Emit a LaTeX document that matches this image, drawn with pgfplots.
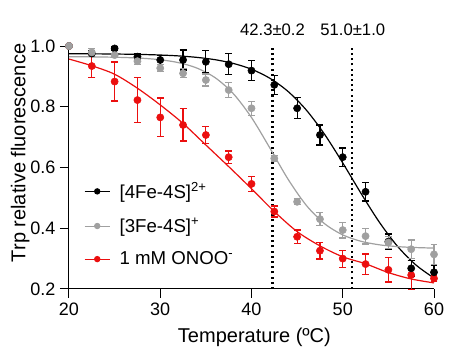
\documentclass[border=0pt]{standalone}
\usepackage{fontspec}
\setmainfont{Liberation Sans}
\usepackage{pgfplots}
\usepackage{pgfplotstable}
\pgfplotsset{compat=1.18}
\definecolor{gr}{RGB}{160,160,160}
\definecolor{rd}{RGB}{235,15,15}

\pgfplotstableread{
x y e
20 1.000 0.000
22.5 0.975 0.010
25 0.992 0.005
27.5 0.965 0.010
30 0.954 0.015
32.5 0.954 0.033
35 0.948 0.037
37.5 0.940 0.035
40 0.919 0.033
42.5 0.872 0.032
45 0.795 0.035
47.5 0.707 0.033
50 0.634 0.030
52.5 0.520 0.030
55 0.356 0.025
57.5 0.268 0.025
60 0.255 0.022
}\blackdata

\pgfplotstableread{
x y e
20 1.000 0.000
22.5 0.979 0.012
25 0.970 0.006
27.5 0.950 0.010
30 0.927 0.012
32.5 0.910 0.015
35 0.888 0.020
37.5 0.855 0.025
40 0.795 0.023
42.5 0.630 0.010
45 0.487 0.010
47.5 0.430 0.021
50 0.394 0.026
52.5 0.374 0.026
55 0.353 0.020
57.5 0.331 0.030
60 0.314 0.033
}\graydata

\pgfplotstableread{
x y e
20 1.000 0.000
22.5 0.934 0.037
25 0.883 0.064
27.5 0.822 0.074
30 0.765 0.064
32.5 0.740 0.053
35 0.707 0.029
37.5 0.634 0.020
40 0.546 0.025
42.5 0.455 0.018
45 0.372 0.022
47.5 0.326 0.027
50 0.300 0.028
52.5 0.282 0.033
55 0.263 0.040
57.5 0.246 0.048
60 0.235 0.010
}\reddata

\begin{document}
\begin{tikzpicture}
\begin{axis}[
  scale only axis, width=273.75pt, height=182.25pt,
  xmin=20, xmax=60, ymin=0.2, ymax=1.0,
  axis x line*=bottom, axis y line*=left,
  xtick={20,30,40,50,60}, ytick={0.2,0.4,0.6,0.8,1.0},
  tick align=outside, major tick length=6.75pt,
  tick style={black, line width=0.75pt},
  axis line style={line width=0.75pt},
  yticklabel style={/pgf/number format/.cd, fixed, fixed zerofill, precision=1},
  /pgf/number format/assume math mode=true,
  ticklabel style={font=\fontsize{13.5}{16}\selectfont},
  xlabel={Temperature (ºC)},
  ylabel={Trp relative fluorescence},
  xlabel style={font=\fontsize{15}{18}\selectfont, at={(axis description cs:0.508,0)}, anchor=base, yshift=-40.5pt},
  ylabel style={font=\fontsize{15}{18}\selectfont, at={(axis description cs:-0.134,0.56)}, anchor=center, rotate=0},
  clip=false,
  legend cell align=left,
  legend style={draw=none, fill=none, at={(axis description cs:0.03,0.462)}, anchor=north west,
    font=\fontsize{14}{17}\selectfont, row sep=9pt, column sep=5pt},
  legend image code/.code={\draw[#1, mark=none] (0cm,0cm) -- (0.66cm,0cm);
     \draw[#1, only marks] plot coordinates {(0.33cm,0cm)};},
]
\addlegendimage{black, line width=0.75pt, mark=*, mark size=2pt}
\addlegendentry{[4Fe-4S]\textsuperscript{2+}}
\addlegendimage{gr, line width=0.75pt, mark=*, mark size=2pt}
\addlegendentry{[3Fe-4S]\textsuperscript{+}}
\addlegendimage{rd, line width=0.75pt, mark=*, mark size=2pt}
\addlegendentry{1 mM ONOO\textsuperscript{-}}

% dotted Tm lines
\addplot[black, line width=1.6pt, dash pattern=on 1.5pt off 2.4pt, forget plot] coordinates {(42.3,0.2) (42.3,1.0)};
\addplot[black, line width=1.6pt, dash pattern=on 1.5pt off 2.4pt, forget plot] coordinates {(51.0,0.2) (51.0,1.0)};

% fitted curves
\addplot[rd, line width=0.9pt, smooth, forget plot] coordinates {
(20,0.957)(22.5,0.935)(25,0.907)(27.5,0.861)(30,0.806)(32.5,0.745)(35,0.674)(37.5,0.603)
(40,0.53)(42.5,0.455)(45,0.389)(47.5,0.342)(50,0.306)(52.5,0.283)(55,0.254)(57.5,0.233)(60,0.22)};
\addplot[black, line width=0.9pt, smooth, forget plot] coordinates {
(20,0.9746)(22,0.9743)(24,0.9739)(26,0.9732)(28,0.9721)(30,0.9703)(32,0.9674)(34,0.9626)
(36,0.9550)(38,0.9427)(40,0.9235)(42,0.8940)(44,0.8505)(46,0.7894)(48,0.7096)(50,0.6151)
(52,0.5149)(54,0.4204)(56,0.3406)(58,0.2795)(60,0.2360)};
\addplot[gr, line width=0.9pt, smooth, forget plot] coordinates {
(20,0.9646)(22,0.9643)(24,0.9636)(26,0.9622)(28,0.9597)(30,0.9547)(32,0.9452)(34,0.9276)
(36,0.8960)(38,0.8433)(40,0.7645)(42,0.6648)(44,0.5617)(46,0.4756)(48,0.4152)(50,0.3781)
(52,0.3570)(54,0.3455)(56,0.3395)(58,0.3364)(60,0.3347)};

% data with error bars
\addplot[rd, only marks, mark=*, mark size=2.7pt, forget plot,
  error bars/.cd, y dir=both, y explicit, error bar style={rd, line width=0.9pt},
  error mark options={rd, line width=0.9pt, mark size=2.6pt, rotate=90}]
  table[x=x, y=y, y error=e] {\reddata};
\addplot[black, only marks, mark=*, mark size=2.7pt, forget plot,
  error bars/.cd, y dir=both, y explicit, error bar style={black, line width=0.9pt},
  error mark options={black, line width=0.9pt, mark size=2.6pt, rotate=90}]
  table[x=x, y=y, y error=e] {\blackdata};
\addplot[gr, only marks, mark=*, mark size=2.7pt, forget plot,
  error bars/.cd, y dir=both, y explicit, error bar style={gr, line width=0.9pt},
  error mark options={gr, line width=0.9pt, mark size=2.6pt, rotate=90}]
  table[x=x, y=y, y error=e] {\graydata};

\node[font=\fontsize{12.5}{15}\selectfont, anchor=base] at (axis cs:42.3,1.0) [yshift=8.25pt] {42.3±0.2};
\node[font=\fontsize{12.5}{15}\selectfont, anchor=base] at (axis cs:51.1,1.0) [yshift=8.25pt] {51.0±1.0};
\end{axis}
\pgfresetboundingbox
\path[use as bounding box] ([xshift=-51.75pt,yshift=-45.75pt]current axis.south west) rectangle ([xshift=16.5pt,yshift=34.5pt]current axis.north east);
\end{tikzpicture}
\end{document}
